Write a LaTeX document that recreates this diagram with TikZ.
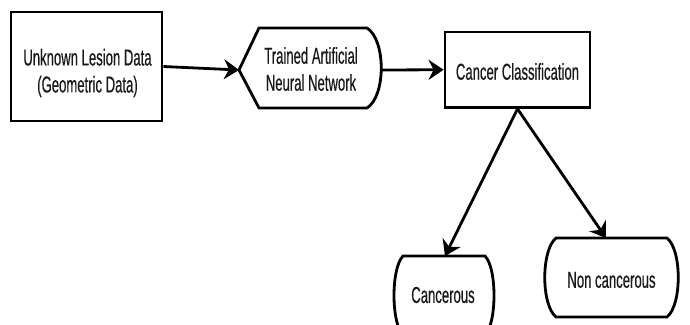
\documentclass[tikz,border=0pt]{standalone}
\usepackage{fontspec}
\setmainfont{Liberation Sans}[FakeStretch=0.57, FakeBold=0.4]
\usetikzlibrary{arrows.meta}
\begin{document}
\begin{tikzpicture}[x=1pt,y=-1pt,
  shapeline/.style={line width=2.8pt, line join=miter},
  conn/.style={line width=2.8pt, -{Stealth[length=15pt,width=20pt,inset=5pt]}},
  lbl/.style={font=\fontsize{23}{27}\selectfont, text=black!90, align=center, inner sep=0pt}]
\clip (0,0) rectangle (690,324);
\fill[white] (0,0) rectangle (690,324);
% input box
\node[draw, shapeline, minimum width=151pt, minimum height=109pt] (data) at (86.5,66.5) {};
\node[lbl] (datatext) at (87.5,73) {Unknown Lesion Data\\(Geometric Data)};
% trained network (display shape)
\draw[shapeline] (239,70) coordinate (annL) -- (259,28) -- (367,28)
  .. controls (386,40) and (386,96) .. (367,108) -- (259,108) -- cycle;
\coordinate (annR) at (381,70);
\node[lbl] (ann) at (311,69) {Trained Artificial\\Neural Network};
% classification box
\node[draw, shapeline, minimum width=145pt, minimum height=75.5pt] (cls) at (517.5,69.75) {};
\node[lbl] (clstext) at (517.5,71.5) {Cancer Classification};
% cancerous terminal
\draw[shapeline] (403,256) -- (485,256) .. controls (497,268) and (497,323) .. (485,335)
  -- (403,335) .. controls (391,323) and (391,268) .. (403,256) -- cycle;
\coordinate (cancTop) at (445,256);
\node[lbl] (canc) at (443,295) {Cancerous};
% non cancerous terminal
\draw[shapeline] (556,238) -- (667,238) .. controls (682,250) and (682,305) .. (667,317)
  -- (556,317) .. controls (541,305) and (541,250) .. (556,238) -- cycle;
\coordinate (nonTop) at (606,238);
\node[lbl] (non) at (611.5,280) {Non cancerous};
% connectors
\draw[conn] (data.east) -- (annL);
\draw[conn] (annR) -- (cls.west);
\draw[conn] (cls.south) -- (cancTop);
\draw[conn] (cls.south) -- (nonTop);
\end{tikzpicture}
\end{document}
